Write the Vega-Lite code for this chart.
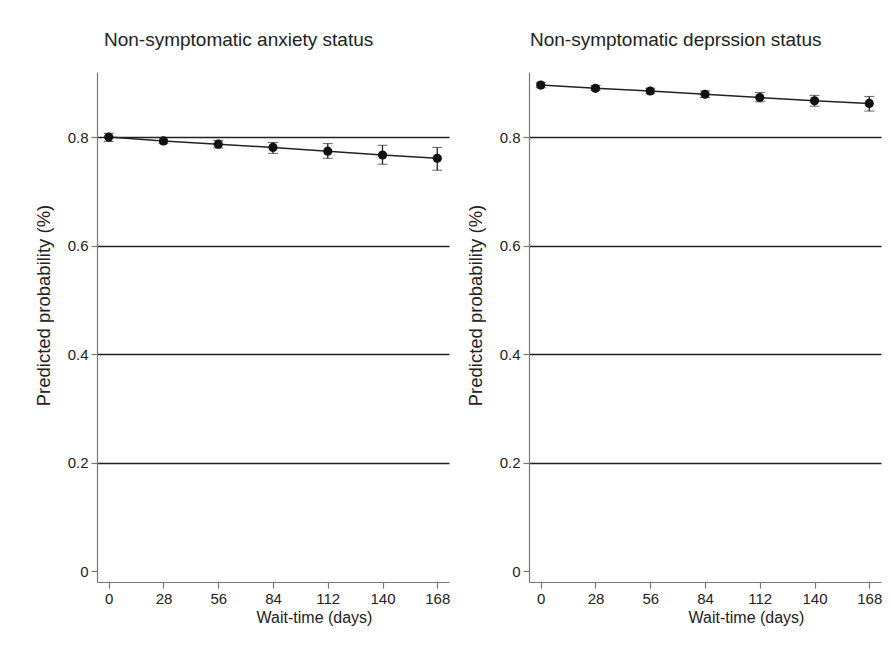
{
  "$schema": "https://vega.github.io/schema/vega-lite/v6.json",
  "background": "white",
  "padding": {"left": 34, "top": 31, "right": 8, "bottom": 6},
  "spacing": 16,
  "datasets": {
    "pred": [
      {"outcome": "anxiety", "days": 0, "p": 0.800, "lo": 0.792, "hi": 0.807},
      {"outcome": "anxiety", "days": 28, "p": 0.793, "lo": 0.788, "hi": 0.799},
      {"outcome": "anxiety", "days": 56, "p": 0.787, "lo": 0.780, "hi": 0.794},
      {"outcome": "anxiety", "days": 84, "p": 0.781, "lo": 0.770, "hi": 0.790},
      {"outcome": "anxiety", "days": 112, "p": 0.774, "lo": 0.761, "hi": 0.788},
      {"outcome": "anxiety", "days": 140, "p": 0.767, "lo": 0.750, "hi": 0.785},
      {"outcome": "anxiety", "days": 168, "p": 0.761, "lo": 0.739, "hi": 0.781},
      {"outcome": "depression", "days": 0, "p": 0.896, "lo": 0.891, "hi": 0.901},
      {"outcome": "depression", "days": 28, "p": 0.890, "lo": 0.886, "hi": 0.895},
      {"outcome": "depression", "days": 56, "p": 0.885, "lo": 0.880, "hi": 0.890},
      {"outcome": "depression", "days": 84, "p": 0.879, "lo": 0.873, "hi": 0.885},
      {"outcome": "depression", "days": 112, "p": 0.873, "lo": 0.865, "hi": 0.882},
      {"outcome": "depression", "days": 140, "p": 0.867, "lo": 0.857, "hi": 0.877},
      {"outcome": "depression", "days": 168, "p": 0.862, "lo": 0.848, "hi": 0.875}
    ]
  },
  "config": {
    "font": "Liberation Sans",
    "view": {"stroke": null},
    "axis": {
      "domainColor": "#777",
      "domainWidth": 1.2,
      "tickColor": "#777",
      "tickWidth": 1.2,
      "tickSize": 6,
      "labelFontSize": 15,
      "labelColor": "#222",
      "labelPadding": 3,
      "titleFontSize": 18.5,
      "titleFontWeight": "normal",
      "titleColor": "#222"
    },
    "title": {"fontSize": 19, "fontWeight": "normal", "color": "#222", "anchor": "start", "frame": "group", "offset": 22}
  },
  "hconcat": [
    {
      "width": 352,
      "height": 510,
      "title": {"text": "Non-symptomatic anxiety status", "dx": 7},
      "data": {"name": "pred"},
      "transform": [{"filter": "datum.outcome === 'anxiety'"}],
      "encoding": {
        "x": {
          "field": "days",
          "type": "quantitative",
          "scale": {"domain": [-6, 174], "nice": false, "zero": false},
          "axis": {"values": [0, 28, 56, 84, 112, 140, 168], "title": "Wait-time (days)", "grid": false, "titleX": 217, "titlePadding": 3, "titleFontSize": 16, "labelPadding": 3}
        }
      },
      "layer": [
        {
          "mark": {"type": "errorbar", "ticks": {"size": 10, "color": "#222", "strokeWidth": 1.3}, "rule": {"strokeWidth": 1.3}, "color": "#222"},
          "encoding": {
            "y": {
              "field": "lo",
              "type": "quantitative",
              "title": "Predicted probability (%)",
              "scale": {"domain": [-0.02, 0.92], "nice": false, "zero": false},
              "axis": {
                "values": [0, 0.2, 0.4, 0.6, 0.8],
                "format": ".1~f",
                "grid": true,
                "gridColor": {"condition": {"test": "datum.value === 0", "value": "transparent"}, "value": "#222"},
                "gridWidth": 1.3,
                "titleY": 233,
                "titlePadding": 14
              }
            },
            "y2": {"field": "hi"}
          }
        },
        {
          "mark": {"type": "line", "color": "#222", "strokeWidth": 1.5},
          "encoding": {
            "y": {"field": "p", "type": "quantitative", "title": "Predicted probability (%)"}
          }
        },
        {
          "mark": {"type": "point", "shape": "circle", "filled": true, "opacity": 1, "color": "#111", "size": 85},
          "encoding": {"y": {"field": "p", "type": "quantitative", "title": "Predicted probability (%)"}}
        }
      ]
    },
    {
      "width": 352,
      "height": 510,
      "title": {"text": "Non-symptomatic deprssion status", "dx": 1},
      "data": {"name": "pred"},
      "transform": [{"filter": "datum.outcome === 'depression'"}],
      "encoding": {
        "x": {
          "field": "days",
          "type": "quantitative",
          "scale": {"domain": [-6, 174], "nice": false, "zero": false},
          "axis": {"values": [0, 28, 56, 84, 112, 140, 168], "title": "Wait-time (days)", "grid": false, "titleX": 217, "titlePadding": 3, "titleFontSize": 16, "labelPadding": 3}
        }
      },
      "layer": [
        {
          "mark": {"type": "errorbar", "ticks": {"size": 10, "color": "#222", "strokeWidth": 1.3}, "rule": {"strokeWidth": 1.3}, "color": "#222"},
          "encoding": {
            "y": {
              "field": "lo",
              "type": "quantitative",
              "title": "Predicted probability (%)",
              "scale": {"domain": [-0.02, 0.92], "nice": false, "zero": false},
              "axis": {
                "values": [0, 0.2, 0.4, 0.6, 0.8],
                "format": ".1~f",
                "grid": true,
                "gridColor": {"condition": {"test": "datum.value === 0", "value": "transparent"}, "value": "#222"},
                "gridWidth": 1.3,
                "titleY": 233,
                "titlePadding": 14
              }
            },
            "y2": {"field": "hi"}
          }
        },
        {
          "mark": {"type": "line", "color": "#222", "strokeWidth": 1.5},
          "encoding": {
            "y": {"field": "p", "type": "quantitative", "title": "Predicted probability (%)"}
          }
        },
        {
          "mark": {"type": "point", "shape": "circle", "filled": true, "opacity": 1, "color": "#111", "size": 85},
          "encoding": {"y": {"field": "p", "type": "quantitative", "title": "Predicted probability (%)"}}
        }
      ]
    }
  ]
}
